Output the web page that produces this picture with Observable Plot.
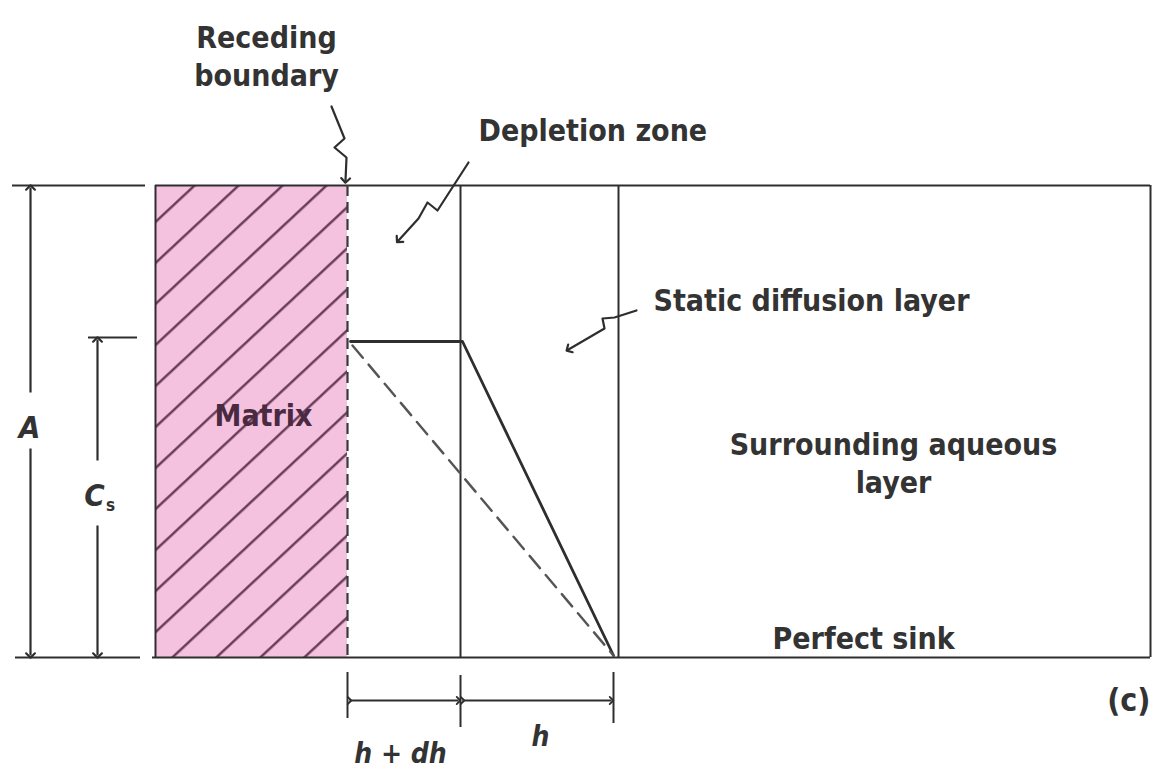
<!DOCTYPE html>
<html>
<head>
<meta charset="utf-8">
<script src="https://cdn.jsdelivr.net/npm/d3@7"></script>
<script src="https://cdn.jsdelivr.net/npm/@observablehq/plot@0.6"></script>
<style>
  html, body { margin: 0; padding: 0; background: #fff; }
  #chart { width: 1153px; height: 773px; }
</style>
</head>
<body>
<div id="chart"></div>
<script>
// ---- diagram data (diagram units: x to the right, y downward) ----
const topLevel = 185;      // level A (top of the layer)
const sinkLevel = 657;     // perfect sink (bottom)
const csLevel = 341;       // saturation concentration Cs

// vertical boundaries
const matrixLeft = 155;
const recedingBoundary = 347;
const depletionRight = 460;
const diffusionRight = 618;
const aqueousRight = 1150;
const sinkPoint = 613;

// zone rectangle (matrix)
const matrixZone = [{x1: matrixLeft, x2: recedingBoundary, y1: topLevel, y2: sinkLevel}];

// solid outlines
const solidVerticals = [
  {x: matrixLeft, y1: topLevel, y2: sinkLevel},
  {x: depletionRight, y1: topLevel, y2: sinkLevel},
  {x: diffusionRight, y1: topLevel, y2: sinkLevel},
  {x: aqueousRight, y1: topLevel, y2: sinkLevel}
];
const solidHorizontals = [
  {y: topLevel, x1: matrixLeft, x2: aqueousRight},
  {y: sinkLevel, x1: matrixLeft - 3, x2: aqueousRight},
  {y: topLevel, x1: 12, x2: 145},
  {y: sinkLevel, x1: 15, x2: 140},
  {y: csLevel - 4, x1: 88, x2: 137}
];

// concentration profiles
const profileSolid = [
  {x: recedingBoundary + 3, y: csLevel},
  {x: depletionRight + 2, y: csLevel},
  {x: sinkPoint, y: sinkLevel - 2}
];
const profileDashed = [
  {x: recedingBoundary + 5, y: csLevel + 4},
  {x: sinkPoint, y: sinkLevel - 2}
];

// dimension arrows (each drawn from label gap outward)
const dimA = [
  {x1: 30, y1: 392, x2: 30, y2: topLevel + 2},
  {x1: 30, y1: 448, x2: 30, y2: sinkLevel - 2}
];
const dimCs = [
  {x1: 97, y1: 460, x2: 97, y2: csLevel - 2},
  {x1: 97, y1: 525, x2: 97, y2: sinkLevel - 2}
];
const dimBottom = [
  {x1: recedingBoundary + 2, x2: depletionRight - 2, y1: 700, y2: 700},
  {x1: depletionRight + 2, x2: sinkPoint - 2, y1: 700, y2: 700}
];
const dimTicks = [
  {x: recedingBoundary, y1: 672, y2: 718},
  {x: depletionRight, y1: 675, y2: 727},
  {x: sinkPoint, y1: 672, y2: 723}
];

// wavy leader arrows
const leaderReceding = [
  {x: 331, y: 106}, {x: 344, y: 138}, {x: 334, y: 147}, {x: 346, y: 157}, {x: 345, y: 180}
];
const leaderDepletion = [
  {x: 468, y: 162}, {x: 437, y: 210}, {x: 427, y: 202}, {x: 418, y: 218}, {x: 398, y: 240}
];
const leaderDiffusion = [
  {x: 636, y: 310}, {x: 614, y: 317}, {x: 602, y: 318}, {x: 604, y: 328}, {x: 568, y: 349}
];

// texts
const labelsMain = [
  {text: "Receding\nboundary", x: 266, y: 85},
  {text: "Surrounding aqueous\nlayer", x: 893, y: 492}
];
const labelsStart = [
  {text: "Depletion zone", x: 478, y: 140},
  {text: "Static diffusion layer", x: 653, y: 310},
  {text: "Perfect sink", x: 772, y: 648}
];
const labelMatrix = [{text: "Matrix", x: 263, y: 425}];
const labelC = [{text: "(c)", x: 1150, y: 710}];
const labelsItalic = [
  {text: "A", x: 29, y: 437, size: 31},
  {text: "C", x: 94, y: 505, size: 31},
  {text: "h + dh", x: 400, y: 762, size: 28},
  {text: "h", x: 540, y: 745, size: 28}
];
const labelSub = [{text: "s", x: 110, y: 510}];

const ink = "#2e2e2e";
const font = "'DejaVu Sans Condensed', 'DejaVu Sans', sans-serif";

const plot = Plot.plot({
  width: 1153,
  height: 773,
  margin: 0,
  x: {domain: [0, 1153], range: [0, 1153], axis: null},
  y: {domain: [0, 773], range: [0, 773], axis: null},
  style: {background: "#fff"},
  marks: [
    Plot.rect(matrixZone, {x1: "x1", x2: "x2", y1: "y1", y2: "y2", fill: "#f4c2de"}),
    Plot.rect(matrixZone, {x1: "x1", x2: "x2", y1: "y1", y2: "y2", fill: "url(#hatch)"}),
    Plot.ruleX(solidVerticals, {x: "x", y1: "y1", y2: "y2", stroke: ink, strokeWidth: 2}),
    Plot.ruleY(solidHorizontals, {y: "y", x1: "x1", x2: "x2", stroke: ink, strokeWidth: 2}),
    Plot.ruleX([recedingBoundary], {y1: topLevel, y2: sinkLevel, stroke: "#3a3a3a", strokeWidth: 2.2, strokeDasharray: "11,6"}),
    Plot.line(profileSolid, {x: "x", y: "y", stroke: ink, strokeWidth: 2.8}),
    Plot.line(profileDashed, {x: "x", y: "y", stroke: "#555", strokeWidth: 2.4, strokeDasharray: "16,9"}),
    Plot.link(dimA, {x1: "x1", y1: "y1", x2: "x2", y2: "y2", stroke: ink, strokeWidth: 2.2, markerEnd: "arrow"}),
    Plot.link(dimCs, {x1: "x1", y1: "y1", x2: "x2", y2: "y2", stroke: ink, strokeWidth: 2.2, markerEnd: "arrow"}),
    Plot.link(dimBottom, {x1: "x1", y1: "y1", x2: "x2", y2: "y2", stroke: ink, strokeWidth: 1.8, markerStart: "arrow", markerEnd: "arrow"}),
    Plot.ruleX(dimTicks, {x: "x", y1: "y1", y2: "y2", stroke: ink, strokeWidth: 2}),
    Plot.line(leaderReceding, {x: "x", y: "y", stroke: ink, strokeWidth: 2.2, markerEnd: "arrow"}),
    Plot.line(leaderDepletion, {x: "x", y: "y", stroke: ink, strokeWidth: 2.2, markerEnd: "arrow"}),
    Plot.line(leaderDiffusion, {x: "x", y: "y", stroke: ink, strokeWidth: 2.2, markerEnd: "arrow"}),
    Plot.text(labelsMain, {x: "x", y: "y", text: "text", textAnchor: "middle", lineAnchor: "bottom", lineHeight: 1.25, fontSize: 30, fontWeight: "bold", fontFamily: font, fill: "#333"}),
    Plot.text(labelsStart, {x: "x", y: "y", text: "text", textAnchor: "start", lineAnchor: "bottom", fontSize: 30, fontWeight: "bold", fontFamily: font, fill: "#333"}),
    Plot.text(labelMatrix, {x: "x", y: "y", text: "text", textAnchor: "middle", lineAnchor: "bottom", fontSize: 30, fontWeight: "bold", fontFamily: font, fill: "#4a2a40"}),
    Plot.text(labelC, {x: "x", y: "y", text: "text", textAnchor: "end", lineAnchor: "bottom", fontSize: 32, fontWeight: "bold", fontFamily: font, fill: "#333"}),
    Plot.text(labelsItalic, {x: "x", y: "y", text: "text", textAnchor: "middle", lineAnchor: "bottom", fontSize: "size", fontWeight: "bold", fontStyle: "italic", fontFamily: font, fill: "#333"}),
    Plot.text(labelSub, {x: "x", y: "y", text: "text", textAnchor: "middle", lineAnchor: "bottom", fontSize: 17, fontWeight: "bold", fontFamily: font, fill: "#333"})
  ]
});

// hatch pattern for the matrix zone: parallel lines rising to the right,
// built as a rotated stripe so no tile seams cut across the lines
const ns = "http://www.w3.org/2000/svg";
const defs = document.createElementNS(ns, "defs");
defs.innerHTML = `<pattern id="hatch" patternUnits="userSpaceOnUse" width="3000" height="30" patternTransform="rotate(-43)">
  <line x1="0" y1="28.3" x2="3000" y2="28.3" stroke="#5b2f4e" stroke-width="2.2"/>
</pattern>`;
plot.insertBefore(defs, plot.firstChild);
document.getElementById("chart").appendChild(plot);
</script>
</body>
</html>
